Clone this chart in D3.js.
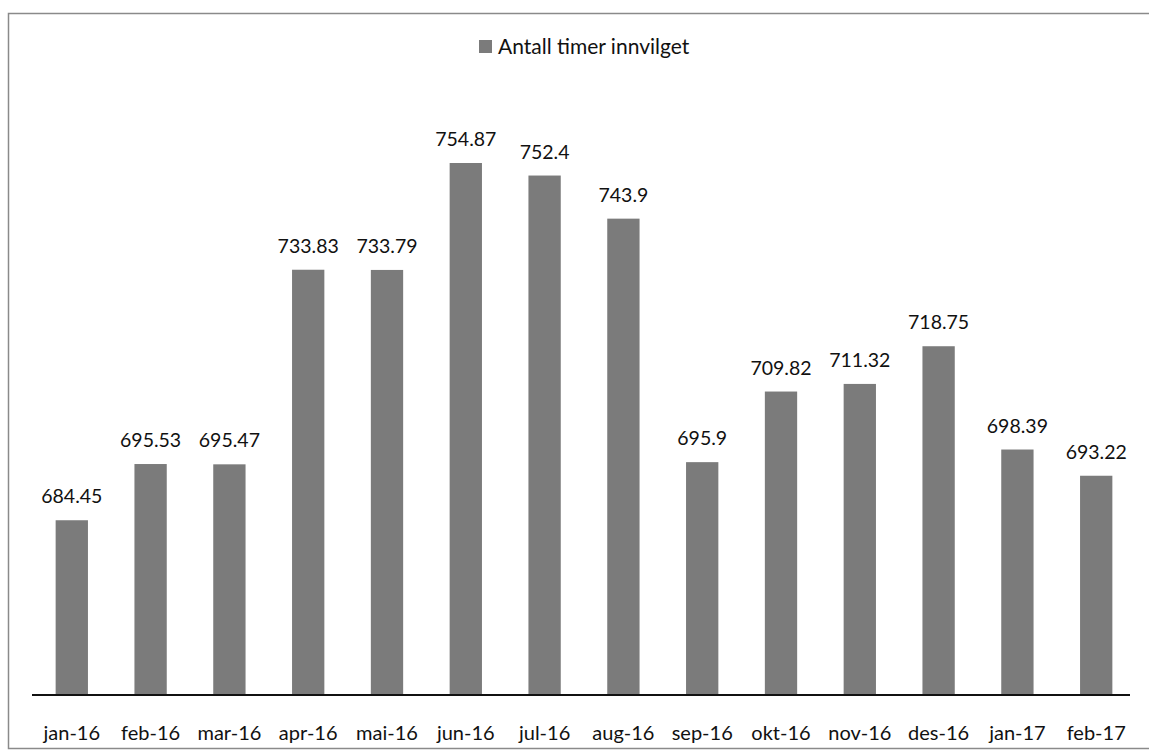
<!DOCTYPE html>
<html><head><meta charset="utf-8">
<script src="https://cdn.jsdelivr.net/npm/d3@7"></script>
<style>body{margin:0;background:#fff}svg{display:block}</style>
</head><body><svg id="c" width="1149" height="752"></svg>
<script>
const categories = ["jan-16","feb-16","mar-16","apr-16","mai-16","jun-16","jul-16","aug-16","sep-16","okt-16","nov-16","des-16","jan-17","feb-17"];
const values = [684.45,695.53,695.47,733.83,733.79,754.87,752.4,743.9,695.9,709.82,711.32,718.75,698.39,693.22];
const labels = ["684.45","695.53","695.47","733.83","733.79","754.87","752.4","743.9","695.9","709.82","711.32","718.75","698.39","693.22"];
const seriesName = "Antall timer innvilget";

const svg = d3.select("#c");
const font = "Lato, 'Open Sans', sans-serif";
svg.append("rect").attr("x",8.5).attr("y",13.5).attr("width",1150).attr("height",735)
  .attr("fill","none").attr("stroke","#8a8a8a").attr("stroke-width",1.5);

const x = d3.scaleBand().domain(categories).range([32,1136]).paddingInner(0.59).paddingOuter(0.3);
const y = d3.scaleLinear().domain([650,754.87]).range([695,163]);

svg.selectAll("rect.bar").data(values).enter().append("rect").attr("class","bar")
  .attr("x",(d,i)=>x(categories[i])).attr("width",x.bandwidth())
  .attr("y",d=>y(d)).attr("height",d=>y(650)-y(d)).attr("fill","#7b7b7b");

svg.selectAll("text.val").data(values).enter().append("text").attr("class","val")
  .attr("x",(d,i)=>x(categories[i])+x.bandwidth()/2).attr("y",d=>y(d)-17)
  .attr("text-anchor","middle").attr("font-family",font).attr("font-size",19.5).attr("fill","#111")
  .text((d,i)=>labels[i]);

const xa = svg.append("g").attr("transform","translate(0,695)").call(d3.axisBottom(x).tickSize(0).tickPadding(0));
xa.select(".domain").attr("stroke","#111").attr("stroke-width",2).attr("d","M32,0H1130");
xa.selectAll("text").attr("font-family",font).attr("font-size",20).attr("fill","#111").attr("dy",null).attr("y",45);

const lg = svg.append("g");
lg.append("rect").attr("x",479).attr("y",40).attr("width",13).attr("height",13).attr("fill","#7b7b7b");
lg.append("text").attr("x",498).attr("y",54).attr("font-family",font).attr("font-size",21).attr("fill","#111").text(seriesName);
</script></body></html>
